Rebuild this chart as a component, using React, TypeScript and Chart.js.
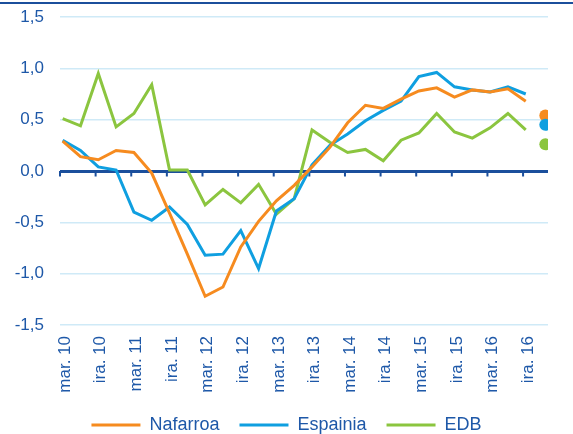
import React, { useEffect, useRef } from 'react';
import { Chart, registerables } from 'chart.js';

Chart.register(...registerables);

// Period tick labels (every second quarter)
const tickLabels = [
  'mar. 10', 'ira. 10', 'mar. 11', 'ira. 11', 'mar. 12', 'ira. 12', 'mar. 13',
  'ira. 13', 'mar. 14', 'ira. 14', 'mar. 15', 'ira. 15', 'mar. 16', 'ira. 16',
];

const seriesNames = ['Nafarroa', 'Espainia', 'EDB'];

// Quarterly values, mar. 10 .. ira. 16
const nafarroa = [
  0.29, 0.14, 0.11, 0.20, 0.18, -0.02, -0.41, -0.81, -1.22, -1.13, -0.74, -0.49, -0.29, -0.14,
  0.04, 0.23, 0.47, 0.64, 0.61, 0.70, 0.78, 0.81, 0.72, 0.79, 0.77, 0.80, 0.68,
];
const espainia = [
  0.30, 0.20, 0.04, 0.01, -0.40, -0.48, -0.35, -0.52, -0.82, -0.81, -0.58, -0.95, -0.39, -0.27,
  0.06, 0.25, 0.36, 0.49, 0.59, 0.68, 0.92, 0.96, 0.82, 0.79, 0.77, 0.82, 0.75,
];
const edb = [
  0.51, 0.44, 0.95, 0.43, 0.56, 0.84, 0.01, 0.01, -0.33, -0.18, -0.31, -0.13, -0.42, -0.27,
  0.40, 0.28, 0.18, 0.21, 0.10, 0.30, 0.37, 0.56, 0.38, 0.32, 0.42, 0.56, 0.40,
];

// Separate markers at the right (Nafarroa, Espainia, EDB)
const latestValues = [0.54, 0.45, 0.26];
const latestIndex = 27.1;

const yTickValues = [-1.5, -1, -0.5, 0, 0.5, 1, 1.5];

const COLORS = ['#F68B1F', '#0F9FE0', '#8BC53F'];
const TEXT = '#1E58A8';
const AXIS = '#1B4F9C';
const GRID = '#CFEAF7';
const FONT = 'Liberation Sans, Arial, sans-serif';

export default function App() {
  const ref = useRef<HTMLCanvasElement | null>(null);

  useEffect(() => {
    if (!ref.current) return;
    const series = [nafarroa, espainia, edb];
    const datasets: any[] = series.map((vals, si) => ({
      label: seriesNames[si],
      data: vals.map((v, i) => ({ x: i, y: v })),
      borderColor: COLORS[si],
      backgroundColor: COLORS[si],
      borderWidth: 3,
      pointRadius: 0,
      tension: 0,
      fill: false,
    }));
    datasets.push({
      label: 'latest',
      data: latestValues.map((v) => ({ x: latestIndex, y: v })),
      showLine: false,
      pointRadius: 6,
      pointBorderWidth: 0,
      pointBackgroundColor: COLORS,
      borderColor: COLORS,
      backgroundColor: COLORS,
    });

    const tickMarks = {
      id: 'tickMarks',
      beforeDatasetsDraw(chart: any) {
        const xs = chart.scales.x;
        const ys = chart.scales.y;
        const y0 = ys.getPixelForValue(0);
        const ctx = chart.ctx;
        ctx.save();
        ctx.strokeStyle = AXIS;
        ctx.lineWidth = 2;
        tickLabels.forEach((_, k) => {
          const px = xs.getPixelForValue(xs.min + 2 * k);
          ctx.beginPath();
          ctx.moveTo(px, y0);
          ctx.lineTo(px, y0 + 5.5);
          ctx.stroke();
        });
        ctx.restore();
      },
    };

    const chart = new Chart(ref.current, {
      type: 'line',
      data: { datasets },
      plugins: [tickMarks],
      options: {
        responsive: false,
        animation: false,
        layout: { padding: { top: 17, left: 0, right: 0, bottom: 0 } },
        plugins: {
          tooltip: { enabled: false },
          legend: {
            position: 'bottom',
            labels: {
              boxWidth: 49,
              boxHeight: 3,
              padding: 20,
              color: TEXT,
              font: { family: FONT, size: 18 },
              generateLabels: (c: any) =>
                c.data.datasets.slice(0, 3).map((ds: any, i: number) => ({
                  text: ds.label,
                  fillStyle: ds.borderColor,
                  strokeStyle: ds.borderColor,
                  lineWidth: 0,
                  hidden: false,
                  datasetIndex: i,
                  fontColor: TEXT,
                })),
            },
          },
        },
        scales: {
          x: {
            type: 'linear',
            min: -0.15,
            max: 27.25,
            grid: { display: false, drawTicks: false },
            border: { display: false },
            afterBuildTicks: (s: any) => {
              s.ticks = tickLabels.map((_, k) => ({ value: 2 * k }));
            },
            afterFit: (s: any) => {
              s.height = 71;
            },
            ticks: {
              autoSkip: false,
              minRotation: 90,
              maxRotation: 90,
              padding: 11,
              labelOffset: 2.5,
              color: TEXT,
              font: { family: FONT, size: 17 },
              callback: (v: any) => tickLabels[Math.round(Number(v) / 2)] ?? '',
            },
          },
          y: {
            min: -1.5,
            max: 1.5,
            afterBuildTicks: (s: any) => {
              s.ticks = yTickValues.map((v) => ({ value: v }));
            },
            afterFit: (s: any) => {
              s.width = 60;
              s.paddingTop = 0;
              s.paddingBottom = 0;
            },
            grid: {
              drawTicks: false,
              color: (c: any) => (c.tick && c.tick.value === 0 ? AXIS : GRID),
              lineWidth: (c: any) => (c.tick && c.tick.value === 0 ? 3 : 1.5),
            },
            border: { display: false },
            ticks: {
              padding: 16,
              color: TEXT,
              font: { family: FONT, size: 17 },
              callback: (v: any) => Number(v).toFixed(1).replace('.', ','),
            },
          },
          yRight: {
            position: 'right',
            display: true,
            grid: { display: false, drawTicks: false },
            border: { display: false },
            ticks: { display: false },
            afterFit: (s: any) => {
              s.width = 25;
              s.paddingTop = 0;
              s.paddingBottom = 0;
            },
          },
        },
      },
    } as any);
    return () => chart.destroy();
  }, []);

  return (
    <div
      style={{
        position: 'fixed',
        left: 0,
        top: 0,
        width: 573,
        height: 434,
        overflow: 'hidden',
        background: '#ffffff',
      }}
    >
      <canvas ref={ref} width={573} height={444} style={{ display: 'block' }} />
      <div
        style={{
          position: 'absolute',
          left: 0,
          top: 2,
          width: 573,
          height: 2,
          background: AXIS,
        }}
      />
    </div>
  );
}
